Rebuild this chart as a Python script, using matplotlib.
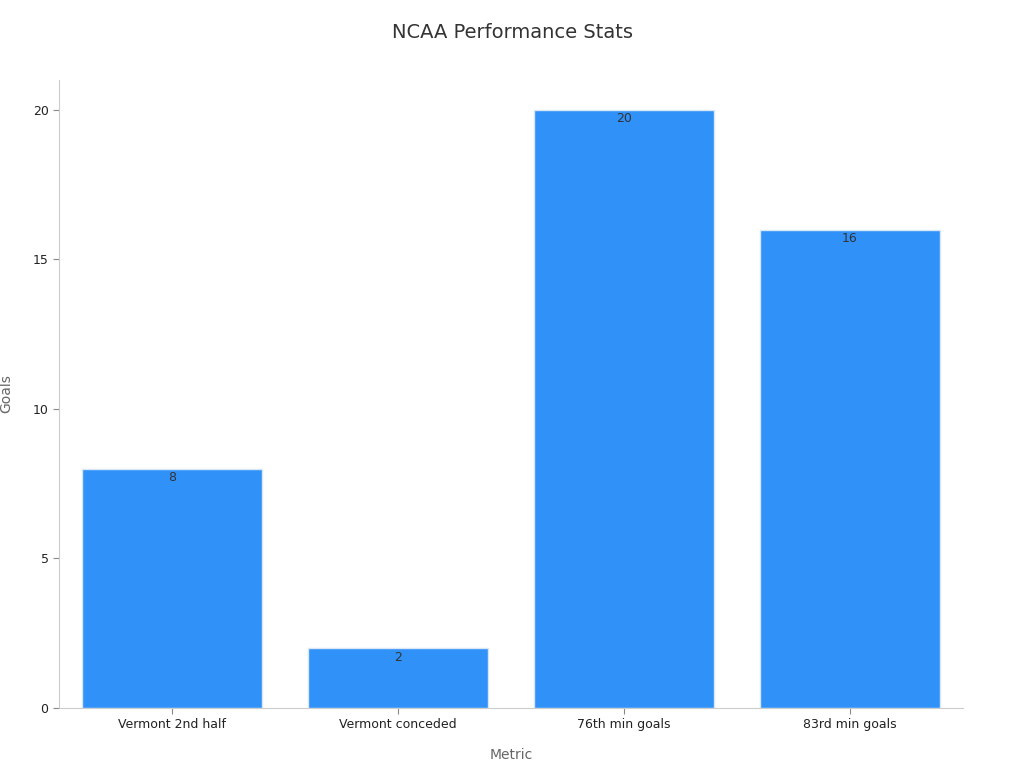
import matplotlib
matplotlib.use("Agg")
import matplotlib.pyplot as plt

categories = ["Vermont 2nd half", "Vermont conceded", "76th min goals", "83rd min goals"]
values = [8, 2, 20, 16]

fig = plt.figure(figsize=(10.24, 7.68), dpi=100)
ax = fig.add_axes([59/1024, 1-708/768, 904/1024, 628/768])
x = range(len(categories))
bars = ax.bar(x, values, width=0.8, color="#3092F9", edgecolor="#D8E6F5", linewidth=1)
for b, v in zip(bars, values):
    ax.text(b.get_x() + b.get_width()/2, v - 0.3, str(v), ha="center", va="center",
            fontsize=9, color="#333333")
ax.set_xlim(-0.5, 3.5)
ax.set_ylim(0, 21)
ax.set_yticks([0, 5, 10, 15, 20])
ax.set_xticks(list(x))
ax.set_xticklabels(categories)
ax.tick_params(labelsize=9, colors="#222222", length=4)
ax.tick_params(colors="#888888", labelcolor="#222222")
for s in ["top", "right"]:
    ax.spines[s].set_visible(False)
for s in ["left", "bottom"]:
    ax.spines[s].set_color("#CCCCCC")
ax.set_xlabel("Metric", fontsize=10, color="#666666", labelpad=12)
ax.set_ylabel("Goals", fontsize=10, color="#666666", labelpad=14)
fig.text(0.5, 1-33/768, "NCAA Performance Stats", ha="center", va="center", fontsize=14, color="#333333")
fig.savefig("out.png", dpi=100)
